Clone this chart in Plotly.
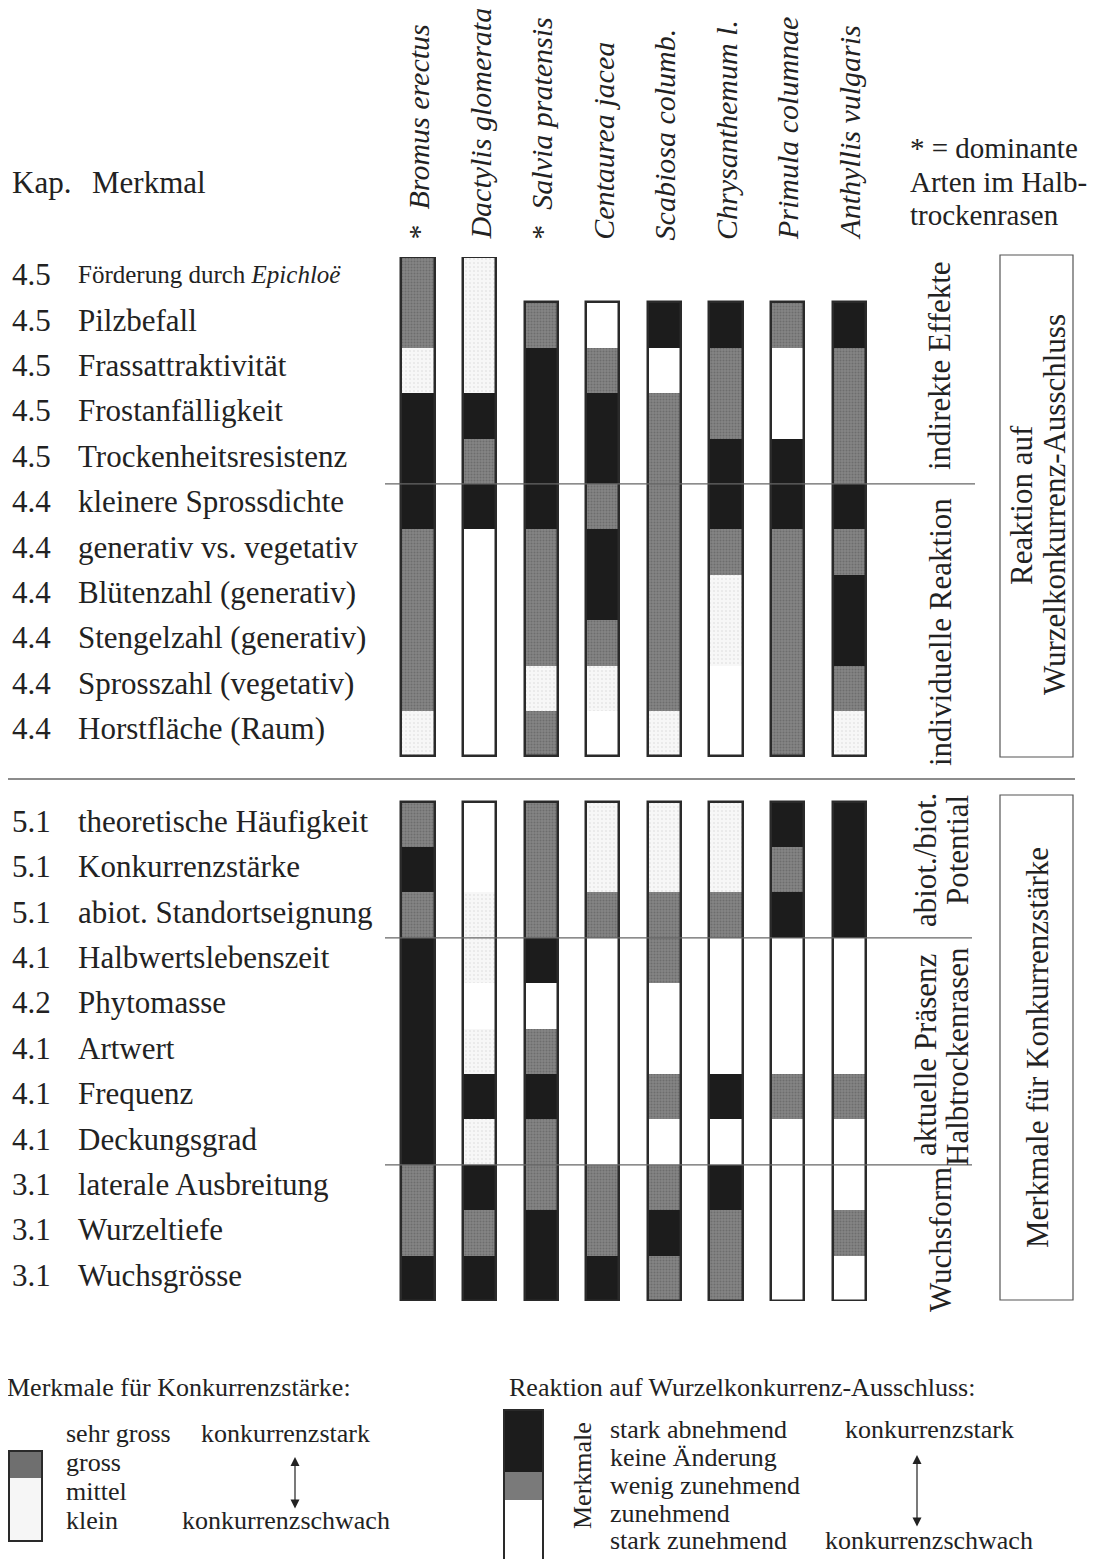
import plotly.graph_objects as go

# ---------------- data ----------------
species = ["Bromus erectus", "Dactylis glomerata", "Salvia pratensis", "Centaurea jacea",
           "Scabiosa columb.", "Chrysanthemum l.", "Primula columnae", "Anthyllis vulgaris"]
dominant = [True, False, True, False, False, False, False, False]

kap_top = ["4.5", "4.5", "4.5", "4.5", "4.5", "4.4", "4.4", "4.4", "4.4", "4.4", "4.4"]
merkmal_top = ["Förderung durch <i>Epichloë</i>", "Pilzbefall", "Frassattraktivität",
               "Frostanfälligkeit", "Trockenheitsresistenz", "kleinere Sprossdichte",
               "generativ vs. vegetativ", "Blütenzahl (generativ)", "Stengelzahl (generativ)",
               "Sprosszahl (vegetativ)", "Horstfläche (Raum)"]
kap_bot = ["5.1", "5.1", "5.1", "4.1", "4.2", "4.1", "4.1", "4.1", "3.1", "3.1", "3.1"]
merkmal_bot = ["theoretische Häufigkeit", "Konkurrenzstärke", "abiot. Standortseignung",
               "Halbwertslebenszeit", "Phytomasse", "Artwert", "Frequenz", "Deckungsgrad",
               "laterale Ausbreitung", "Wurzeltiefe", "Wuchsgrösse"]

# class codes: 3 = black, 2 = dark grey, 1 = light (dotted), 0 = white, None = no value
# Reaktion auf Wurzelkonkurrenz-Ausschluss (upper block)
react_bromus     = [2, 2, 1, 3, 3, 3, 2, 2, 2, 2, 1]
react_dactylis   = [1, 1, 1, 3, 2, 3, 0, 0, 0, 0, 0]
react_salvia     = [None, 2, 3, 3, 3, 3, 2, 2, 2, 1, 2]
react_centaurea  = [None, 0, 2, 3, 3, 2, 3, 3, 2, 1, 0]
react_scabiosa   = [None, 3, 0, 2, 2, 2, 2, 2, 2, 2, 1]
react_chrysanth  = [None, 3, 2, 2, 3, 3, 2, 1, 1, 0, 0]
react_primula    = [None, 2, 0, 0, 3, 3, 2, 2, 2, 2, 2]
react_anthyllis  = [None, 3, 2, 2, 2, 3, 2, 3, 3, 2, 1]

# Merkmale für Konkurrenzstärke (lower block)
komp_bromus      = [2, 3, 2, 3, 3, 3, 3, 3, 2, 2, 3]
komp_dactylis    = [0, 0, 1, 1, 0, 1, 3, 1, 3, 2, 3]
komp_salvia      = [2, 2, 2, 3, 0, 2, 3, 2, 2, 3, 3]
komp_centaurea   = [1, 1, 2, 0, 0, 0, 0, 0, 2, 2, 3]
komp_scabiosa    = [1, 1, 2, 2, 0, 0, 2, 0, 2, 3, 2]
komp_chrysanth   = [1, 1, 2, 0, 0, 0, 3, 0, 3, 2, 2]
komp_primula     = [3, 2, 3, 0, 0, 0, 2, 0, 0, 0, 0]
komp_anthyllis   = [3, 3, 3, 0, 0, 0, 2, 0, 0, 2, 0]

react_all = [react_bromus, react_dactylis, react_salvia, react_centaurea,
             react_scabiosa, react_chrysanth, react_primula, react_anthyllis]
komp_all = [komp_bromus, komp_dactylis, komp_salvia, komp_centaurea,
            komp_scabiosa, komp_chrysanth, komp_primula, komp_anthyllis]

# ---------------- layout helpers ----------------
PAGE_W, PAGE_H = 1102, 1559
OFF = 8                      # default page body margin
W, H = PAGE_W - OFF, PAGE_H - OFF
FONT = "Liberation Serif"
TOP_START = 0
BOT_START = 12
N_POS = 23
X0_PX, DX_PX = 418, 61.6
Y_TOP_PX, Y_BOT_PX = 257, 1301
BAR_W = 0.54
FS = 31
LS = 26


def xp(px):
    return (px - OFF) / W


def yp(py):
    return 1 - (py - OFF) / H


# ---------------- runs -> bars ----------------
shade_col = {3: "#1c1c1c", 2: "#7a7a7a", 1: "#f3f3f3", 0: "#ffffff"}
runs = {0: [], 1: [], 2: [], 3: []}
outline = []
for block, start in ((react_all, TOP_START), (komp_all, BOT_START)):
    for ci, vals in enumerate(block):
        first = None
        i = 0
        while i < len(vals):
            v = vals[i]
            if v is None:
                i += 1
                continue
            if first is None:
                first = i
            j = i
            while j + 1 < len(vals) and vals[j + 1] == v:
                j += 1
            runs[v].append((ci, start + i, j - i + 1))
            i = j + 1
        outline.append((ci, start + first, len(vals) - first))

fig = go.Figure()
for v in (0, 1, 2, 3):
    if not runs[v]:
        continue
    marker = dict(color=shade_col[v], line=dict(width=0))
    if v == 1:
        marker["pattern"] = dict(shape=".", fgcolor="#b5b5b5", bgcolor="#f7f7f7",
                                 size=4, solidity=0.12)
    if v == 2:
        marker["pattern"] = dict(shape=".", fgcolor="#555555", bgcolor="#858585",
                                 size=3, solidity=0.4)
    fig.add_trace(go.Bar(x=[r[0] for r in runs[v]], base=[r[1] for r in runs[v]],
                         y=[r[2] for r in runs[v]], width=BAR_W, marker=marker,
                         showlegend=False, hoverinfo="skip"))

fig.add_trace(go.Bar(x=[o[0] for o in outline], base=[o[1] for o in outline],
                     y=[o[2] for o in outline], width=BAR_W,
                     marker=dict(color="rgba(0,0,0,0)", line=dict(color="#2a2a2a", width=2.5)),
                     showlegend=False, hoverinfo="skip"))

ann = []


def text(px, py, t, size=FS, xa="left", ya="middle", angle=0, color="#222", ref_y=None,
         yshift=0):
    a = dict(x=xp(px), y=yp(py) if ref_y is None else ref_y, xref="paper",
             yref="paper" if ref_y is None else "y", text=t, showarrow=False,
             xanchor=xa, yanchor=ya, textangle=angle, yshift=yshift,
             font=dict(family=FONT, size=size, color=color))
    ann.append(a)
    return a


# species names (rotated)
for i, (s, d) in enumerate(zip(species, dominant)):
    t = ("*  " if d else "") + "<i>" + s + "</i>"
    ann.append(dict(x=i, y=yp(242), xref="x", yref="paper", text=t, showarrow=False,
                    xanchor="center", yanchor="bottom", textangle=-90,
                    font=dict(family=FONT, size=30, color="#222")))

# header
text(10, 182, "Kap.")
text(90, 182, "Merkmal")
text(908, 148, "* = dominante", size=29)
text(908, 182, "Arten im Halb-", size=29)
text(908, 215, "trockenrasen", size=29)

# row labels
for k, (kp, m) in enumerate(zip(kap_top, merkmal_top)):
    text(10, 0, kp, ref_y=TOP_START + k + 0.5, yshift=5)
    text(76, 0, m, ref_y=TOP_START + k + 0.5, size=25 if k == 0 else FS, yshift=5)
for k, (kp, m) in enumerate(zip(kap_bot, merkmal_bot)):
    text(10, 0, kp, ref_y=BOT_START + k + 0.5, yshift=3)
    text(76, 0, m, ref_y=BOT_START + k + 0.5, yshift=3)

# group labels (rotated)
text(940, 366, "indirekte Effekte", xa="center", angle=-90)
text(940, 632, "individuelle Reaktion", xa="center", angle=-90)
text(925, 860, "abiot./biot.", xa="center", angle=-90)
text(957, 850, "Potential", xa="center", angle=-90)
text(925, 1055, "aktuelle Präsenz", xa="center", angle=-90)
text(957, 1057, "Halbtrockenrasen", xa="center", angle=-90)
text(940, 1240, "Wuchsform", xa="center", angle=-90)
text(1021, 505, "Reaktion auf", xa="center", angle=-90)
text(1054, 505, "Wurzelkonkurrenz-Ausschluss", xa="center", angle=-90)
text(1037, 1048, "Merkmale für Konkurrenzstärke", xa="center", angle=-90)

# legends
text(5, 1387, "Merkmale für Konkurrenzstärke:", size=LS)
for py, t in ((1433, "sehr gross"), (1462, "gross"), (1491, "mittel"), (1520, "klein")):
    text(64, py, t, size=LS)
text(199, 1433, "konkurrenzstark", size=LS)
text(180, 1520, "konkurrenzschwach", size=LS)

text(507, 1387, "Reaktion auf Wurzelkonkurrenz-Ausschluss:", size=LS)
text(582, 1476, "Merkmale", xa="center", angle=-90, size=LS)
for py, t in ((1429, "stark abnehmend"), (1457, "keine Änderung"), (1485, "wenig zunehmend"),
              (1513, "zunehmend"), (1540, "stark zunehmend")):
    text(608, py, t, size=LS)
text(843, 1429, "konkurrenzstark", size=LS)
text(823, 1540, "konkurrenzschwach", size=LS)

# double arrows
for x_px, y1, y2 in ((295, 1457, 1510), (917, 1455, 1528)):
    ann.append(dict(x=xp(x_px), y=yp(y1), ax=0, ay=y2 - y1, xref="paper", yref="paper",
                    axref="pixel", ayref="pixel", showarrow=True, arrowhead=2,
                    arrowside="end+start", arrowsize=1.5, arrowwidth=1.2, arrowcolor="#222",
                    text=""))

shapes = []
# separators
for pos, x0, x1 in ((5, 385, 975), (11.5, 0, 1075), (15, 385, 972), (20, 385, 972)):
    shapes.append(dict(type="line", xref="paper", yref="y", x0=xp(max(x0, OFF)), x1=xp(x1),
                       y0=pos, y1=pos, line=dict(color="#666", width=1.3)))
# boxes around block titles
for y0, y1 in ((255, 757), (795, 1300)):
    shapes.append(dict(type="rect", xref="paper", yref="paper", x0=xp(1000), x1=xp(1073),
                       y0=yp(y0), y1=yp(y1), line=dict(color="#555", width=1.2)))
# legend swatches
shapes.append(dict(type="rect", xref="paper", yref="paper", x0=xp(8), x1=xp(42),
                   y0=yp(1451), y1=yp(1478), fillcolor="#6f6f6f", line=dict(width=0)))
shapes.append(dict(type="rect", xref="paper", yref="paper", x0=xp(8), x1=xp(42),
                   y0=yp(1478), y1=yp(1541), fillcolor="#f6f6f6", line=dict(width=0)))
shapes.append(dict(type="rect", xref="paper", yref="paper", x0=xp(9), x1=xp(42),
                   y0=yp(1451), y1=yp(1541), line=dict(color="#2a2a2a", width=2)))
shapes.append(dict(type="rect", xref="paper", yref="paper", x0=xp(504), x1=xp(543),
                   y0=yp(1410), y1=yp(1472), fillcolor="#1c1c1c", line=dict(width=0)))
shapes.append(dict(type="rect", xref="paper", yref="paper", x0=xp(504), x1=xp(543),
                   y0=yp(1472), y1=yp(1500), fillcolor="#7a7a7a", line=dict(width=0)))
shapes.append(dict(type="rect", xref="paper", yref="paper", x0=xp(504), x1=xp(543),
                   y0=yp(1410), y1=yp(1562), line=dict(color="#2a2a2a", width=2)))

# x axis: species index -> page pixels
x_lo = (OFF - X0_PX) / DX_PX
x_hi = (PAGE_W - X0_PX) / DX_PX
fig.update_layout(
    width=W, height=H, margin=dict(l=0, r=0, t=0, b=0),
    paper_bgcolor="white", plot_bgcolor="white",
    barmode="overlay", bargap=0,
    xaxis=dict(range=[x_lo, x_hi], domain=[0, 1], visible=False, fixedrange=True),
    yaxis=dict(range=[N_POS, 0],
               domain=[(PAGE_H - Y_BOT_PX) / H, 1 - (Y_TOP_PX - OFF) / H],
               visible=False, fixedrange=True),
    annotations=ann, shapes=shapes, showlegend=False,
)
fig.write_html("out.html")
